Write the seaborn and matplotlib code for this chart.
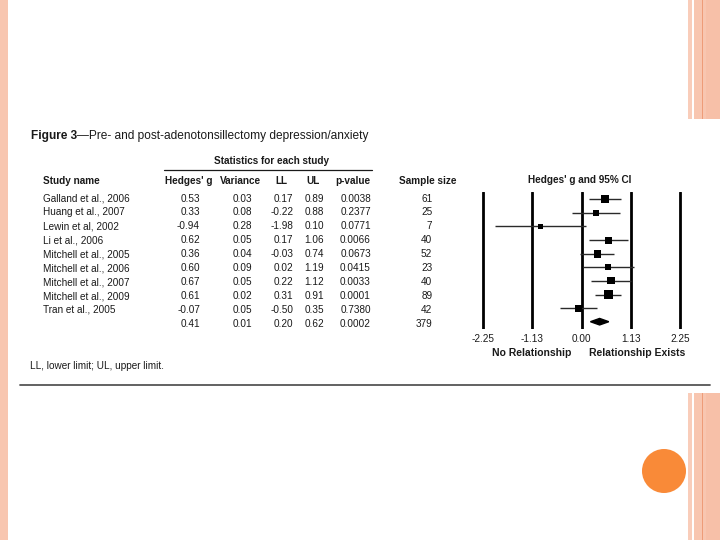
import matplotlib
matplotlib.use("Agg")
import matplotlib.pyplot as plt
from matplotlib.patches import Rectangle, Circle, Polygon
import numpy as np
import pandas as pd
import seaborn as sns

# study-level results
studies = ["Galland et al., 2006", "Huang et al., 2007", "Lewin et al, 2002",
           "Li et al., 2006", "Mitchell et al., 2005", "Mitchell et al., 2006",
           "Mitchell et al., 2007", "Mitchell et al., 2009", "Tran et al., 2005"]
hedges_g = [0.53, 0.33, -0.94, 0.62, 0.36, 0.60, 0.67, 0.61, -0.07]
variance = [0.03, 0.08, 0.28, 0.05, 0.04, 0.09, 0.05, 0.02, 0.05]
lower = [0.17, -0.22, -1.98, 0.17, -0.03, 0.02, 0.22, 0.31, -0.50]
upper = [0.89, 0.88, 0.10, 1.06, 0.74, 1.19, 1.12, 0.91, 0.35]
p_values = [0.0038, 0.2377, 0.0771, 0.0066, 0.0673, 0.0415, 0.0033, 0.0001, 0.7380]
sample_size = [61, 25, 7, 40, 52, 23, 40, 89, 42]

# pooled result
pooled_g = 0.41
pooled_var = 0.01
pooled_ll = 0.20
pooled_ul = 0.62
pooled_p = 0.0002
pooled_n = 379

axis_ticks = [-2.25, -1.13, 0.00, 1.13, 2.25]

df = pd.DataFrame({"study": studies, "g": hedges_g, "var": variance,
                   "ll": lower, "ul": upper, "p": p_values, "n": sample_size})
df["row"] = np.arange(len(df))
# box width grows with study weight (1/variance)
df["box"] = (3.4 * (1 / df["var"]) ** 0.25 * 0.72) ** 2

sns.set_style("white")
plt.rcParams["font.family"] = ["Liberation Sans", "DejaVu Sans"]

fig = plt.figure(figsize=(7.2, 5.4), dpi=100)

# slide background, drawn in pixel coordinates
bg = fig.add_axes([0, 0, 1, 1])
bg.set_xlim(0, 720)
bg.set_ylim(540, 0)
bg.axis("off")

salmon = "#F8C6B0"
bg.add_patch(Rectangle((0, 0), 8, 540, color=salmon, lw=0))
for y0, y1 in [(0, 119), (393, 540)]:
    bg.add_patch(Rectangle((688, y0), 3.5, y1 - y0, color="#F9CDBA", lw=0))
    bg.add_patch(Rectangle((694, y0), 26, y1 - y0, color=salmon, lw=0))
    bg.add_patch(Rectangle((701.5, y0), 1.2, y1 - y0, color="#EE9C78", lw=0))
    bg.add_patch(Rectangle((706, y0), 14, y1 - y0, color="#F7C0A8", lw=0))
bg.add_patch(Circle((664, 471), 22, color="#F98A38", lw=0))
bg.plot([20, 710], [385, 385], color="#555555", lw=1.3)

ink = "#1a1a1a"
fs = 7.2

# title
t1 = bg.text(31, 139, "Figure 3", fontsize=8.6, fontweight="bold", color=ink,
             va="baseline", ha="left")
bg.annotate("\u2014Pre- and post-adenotonsillectomy depression/anxiety",
            xy=(1, 0), xycoords=t1, fontsize=8.6, color=ink, va="bottom", ha="left")

# table headers
bg.text(271.7, 161, "Statistics for each study", fontsize=fs, fontweight="bold",
        color=ink, ha="center", va="center")
bg.plot([164, 372], [169.5, 169.5], color=ink, lw=0.9)
hy = 181.5
bg.text(43.3, hy, "Study name", fontsize=fs, fontweight="bold", color=ink, va="center")
for label, cx in [("Hedges' g", 188.3), ("Variance", 240.7), ("LL", 281.7),
                  ("UL", 313.3), ("p-value", 353.3), ("Sample size", 427.3)]:
    bg.text(cx, hy, label, fontsize=fs, fontweight="bold", color=ink,
            ha="center", va="center")

# table body
col_right = [200, 252.3, 293.3, 324, 371, 432.3]
row_step = 13.93
table_rows = [[s, f"{g:.2f}", f"{v:.2f}", f"{a:.2f}", f"{b:.2f}", f"{p:.4f}", f"{n}"]
              for s, g, v, a, b, p, n in zip(studies, hedges_g, variance, lower,
                                               upper, p_values, sample_size)]
table_rows.append(["", f"{pooled_g:.2f}", f"{pooled_var:.2f}", f"{pooled_ll:.2f}",
                   f"{pooled_ul:.2f}", f"{pooled_p:.4f}", f"{pooled_n}"])
for i, cells in enumerate(table_rows):
    y = 198.5 + i * row_step
    bg.text(43.3, y, cells[0], fontsize=fs, color=ink, va="center")
    for txt, xr in zip(cells[1:], col_right):
        bg.text(xr, y, txt, fontsize=fs, color=ink, ha="right", va="center")

bg.text(30, 366, "LL, lower limit; UL, upper limit.", fontsize=fs, color=ink,
        va="center")

# forest plot
ax = fig.add_axes([472.3 / 720, 1 - 328.5 / 540, 218.75 / 720, 136 / 540])
ax.set_xlim(-2.5, 2.5)
ax.set_ylim(9.5, -0.5)
for t in axis_ticks:
    ax.axvline(t, color="black", lw=2)
ax.hlines(df["row"], df["ll"], df["ul"], color="#2a2a2a", lw=1)
sns.scatterplot(data=df, x="g", y="row", marker="s", s=df["box"], color="black",
                linewidth=0, legend=False, ax=ax, zorder=3)
pr = len(df)
ax.add_patch(Polygon([(pooled_ll, pr), (pooled_g, pr - 0.24),
                      (pooled_ul, pr), (pooled_g, pr + 0.24)],
                     closed=True, color="black", zorder=3))
ax.set_xticks(axis_ticks, labels=[f"{t:.2f}" for t in axis_ticks])
ax.set_yticks([])
ax.tick_params(axis="x", length=0, pad=4, labelsize=fs, labelcolor=ink)
ax.set_xlabel("")
ax.set_ylabel("")
for sp in ax.spines.values():
    sp.set_visible(False)
ax.patch.set_alpha(0)

bg.text(580, 180, "Hedges' g and 95% CI", fontsize=fs, fontweight="bold",
        color=ink, ha="center", va="center")
bg.text(532, 353, "No Relationship", fontsize=7.5, fontweight="bold", color=ink,
        ha="center", va="center")
bg.text(637, 353, "Relationship Exists", fontsize=7.5, fontweight="bold", color=ink,
        ha="center", va="center")

fig.savefig("out.png", dpi=100)
